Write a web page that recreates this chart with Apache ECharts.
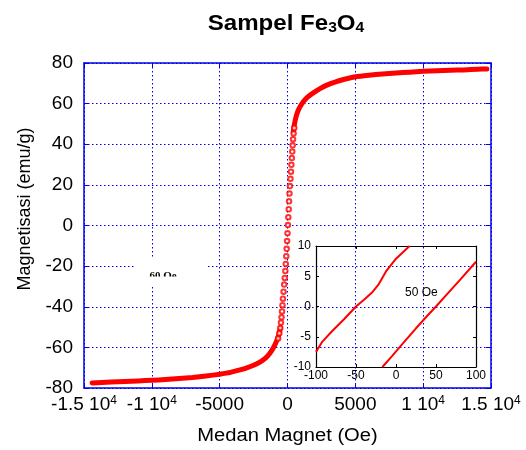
<!DOCTYPE html>
<html>
<head>
<meta charset="utf-8">
<script src="https://cdn.jsdelivr.net/npm/echarts@6/dist/echarts.min.js"></script>
<style>
  html, body { margin: 0; padding: 0; background: #ffffff; }
  #c { width: 526px; height: 450px; }
</style>
</head>
<body>
<div id="c"></div>
<script>
// Hysteresis loop of the Fe3O4 sample: field H (Oe), magnetisation M (emu/g)
// Saturating tails, drawn as a thick band
const lowerTailH = [-14400, -13000, -12000, -11000, -10000, -9000, -8000, -7000, -6000, -5000, -4200, -3500, -3000, -2500, -2000, -1600, -1300, -1050, -850, -700, -600, -520];
const lowerTailM = [-77.5, -77.1, -76.8, -76.5, -76.2, -75.8, -75.3, -74.8, -74.1, -73.2, -72.3, -71.1, -70.1, -68.8, -67.1, -65.2, -62.9, -60.3, -57.6, -55.0, -52.6, -50.2];
const upperTailH = [430, 520, 650, 800, 1000, 1200, 1500, 1900, 2400, 2900, 3500, 4200, 5000, 6000, 7000, 8000, 9000, 10000, 11000, 12000, 13000, 14000, 14700];
const upperTailM = [46.5, 50.2, 54.0, 56.8, 59.3, 61.2, 63.3, 65.3, 67.4, 69.1, 70.6, 72.0, 73.2, 74.0, 74.6, 75.1, 75.5, 75.9, 76.2, 76.4, 76.6, 76.9, 77.1];

// Steep switching region, where single measurement points are visible
const steepH = [-690, -600, -530, -480, -440, -405, -370, -335, -290, -245, -200, -160, -125, -90, -60, -30, 0, 30, 60, 90, 115, 145, 180, 220, 255, 285, 320, 350, 380, 410, 450, 500];
const steepM = [-55.6, -53.1, -50.4, -47.8, -45.2, -42.3, -39.2, -36.0, -32.6, -29.1, -25.8, -22.4, -18.9, -15.1, -11.5, -7.6, -3.8, 0.2, 4.1, 8.0, 11.9, 15.7, 19.4, 23.0, 26.5, 29.9, 33.2, 36.4, 39.5, 42.5, 45.3, 48.0];

// Inset: the loop around H = 0 (coercive field 50 Oe)
const insetLeftH = [-100, -92, -80, -65, -50, -40, -30, -22, -12, 0, 8, 17];
const insetLeftM = [-7.5, -5.8, -4.1, -2.1, 0, 1.1, 2.3, 3.6, 5.9, 7.9, 8.9, 10];
const insetRightH = [-17, -5, 10, 25, 40, 50, 65, 80, 100];
const insetRightM = [-10, -8.2, -5.9, -3.6, -1.4, 0, 2.2, 4.4, 7.4];

// Tick labels of the field axis (mantissa and power of ten)
const fieldTicks = [-15000, -10000, -5000, 0, 5000, 10000, 15000];
const fieldTickBase = ['-1.5 10', '-1 10', '-5000', '0', '5000', '1 10', '1.5 10'];
const fieldTickExp = ['4', '4', '', '', '', '4', '4'];

const BLUE = '#0000ee';
const RED = '#ff0000';
const FONT = 'Liberation Sans, Arial, sans-serif';
const pairs = (xs, ys) => xs.map((x, i) => [x, ys[i]]);

function fieldLabel(v) {
  const i = fieldTicks.indexOf(v);
  if (i < 0) return '';
  return fieldTickExp[i]
    ? '{b|' + fieldTickBase[i] + '}{e|' + fieldTickExp[i] + '}'
    : '{b|' + fieldTickBase[i] + '}';
}

const dotted = { color: BLUE, type: [1.5, 2.5], width: 1 };
const frameLine = { show: true, onZero: false, lineStyle: { color: BLUE, width: 1.5 } };
const frameTick = { show: true, inside: true, length: 5, lineStyle: { color: BLUE, width: 1 } };
const insetLine = { show: true, onZero: false, lineStyle: { color: '#000', width: 1.2 } };
const insetTick = { show: true, inside: true, length: 3, lineStyle: { color: '#000', width: 1 } };
const insetLabel = { fontSize: 12, color: '#000', fontFamily: FONT };

const chart = echarts.init(document.getElementById('c'), null, { renderer: 'canvas' });
chart.setOption({
  animation: false,
  backgroundColor: '#ffffff',
  grid: [
    { left: 84, top: 63, width: 407, height: 325, containLabel: false },
    { left: 316, top: 246, width: 160, height: 121, containLabel: false }
  ],
  xAxis: [
    {
      gridIndex: 0, type: 'value', position: 'bottom',
      min: -15000, max: 15000, interval: 5000,
      axisLine: frameLine, axisTick: frameTick,
      axisLabel: {
        margin: 7, formatter: fieldLabel,
        rich: {
          b: { fontSize: 19, color: '#000', fontFamily: FONT },
          e: { fontSize: 12, color: '#000', fontFamily: FONT, verticalAlign: 'top' }
        }
      },
      splitLine: { show: true, lineStyle: dotted }
    },
    {
      gridIndex: 0, type: 'value', position: 'top',
      min: -15000, max: 15000, interval: 5000,
      axisLine: frameLine, axisTick: frameTick,
      axisLabel: { show: false }, splitLine: { show: false }
    },
    {
      gridIndex: 1, type: 'value', position: 'bottom',
      min: -100, max: 100, interval: 50,
      axisLine: insetLine, axisTick: insetTick,
      axisLabel: Object.assign({ margin: 3 }, insetLabel),
      splitLine: { show: false }
    },
    {
      gridIndex: 1, type: 'value', position: 'top',
      min: -100, max: 100, interval: 50,
      axisLine: insetLine, axisTick: insetTick,
      axisLabel: { show: false }, splitLine: { show: false }
    }
  ],
  yAxis: [
    {
      gridIndex: 0, type: 'value', position: 'left',
      min: -80, max: 80, interval: 20,
      axisLine: frameLine, axisTick: frameTick,
      axisLabel: { margin: 11, fontSize: 19, color: '#000', fontFamily: FONT },
      splitLine: { show: true, lineStyle: dotted }
    },
    {
      gridIndex: 0, type: 'value', position: 'right',
      min: -80, max: 80, interval: 20,
      axisLine: frameLine, axisTick: frameTick,
      axisLabel: { show: false }, splitLine: { show: false }
    },
    {
      gridIndex: 1, type: 'value', position: 'left',
      min: -10, max: 10, interval: 5,
      axisLine: insetLine, axisTick: insetTick,
      axisLabel: Object.assign({ margin: 5 }, insetLabel),
      splitLine: { show: false }
    },
    {
      gridIndex: 1, type: 'value', position: 'right',
      min: -10, max: 10, interval: 5,
      axisLine: insetLine, axisTick: insetTick,
      axisLabel: { show: false }, splitLine: { show: false }
    }
  ],
  series: [
    {
      type: 'line', xAxisIndex: 0, yAxisIndex: 0, data: pairs(lowerTailH, lowerTailM),
      showSymbol: false, smooth: 0.2, z: 3,
      lineStyle: { color: RED, width: 5, cap: 'round', join: 'round' }
    },
    {
      type: 'line', xAxisIndex: 0, yAxisIndex: 0, data: pairs(upperTailH, upperTailM),
      showSymbol: false, smooth: 0.2, z: 3,
      lineStyle: { color: RED, width: 5, cap: 'round', join: 'round' }
    },
    {
      type: 'scatter', xAxisIndex: 0, yAxisIndex: 0, data: pairs(steepH, steepM),
      symbol: 'emptyCircle', symbolSize: 4.5, z: 3,
      itemStyle: { color: RED, borderColor: RED, borderWidth: 1.3 }
    },
    {
      type: 'line', xAxisIndex: 2, yAxisIndex: 2, data: pairs(insetLeftH, insetLeftM),
      showSymbol: false, z: 4, lineStyle: { color: RED, width: 2 }
    },
    {
      type: 'line', xAxisIndex: 2, yAxisIndex: 2, data: pairs(insetRightH, insetRightM),
      showSymbol: false, z: 4, lineStyle: { color: RED, width: 2 }
    }
  ],
  graphic: [
    {
      type: 'text', x: 286, y: 24, scaleX: 1.12, z: 10,
      style: {
        text: '{t|Sampel Fe}{s|3}{t|O}{s|4}',
        align: 'center', verticalAlign: 'middle',
        rich: {
          t: { fontSize: 21.5, fontWeight: 'bold', fill: '#000', fontFamily: FONT },
          s: { fontSize: 14, fontWeight: 'bold', fill: '#000', fontFamily: FONT, verticalAlign: 'bottom' }
        }
      }
    },
    {
      type: 'text', x: 287.5, y: 436, scaleX: 1.12, z: 10,
      style: { text: 'Medan Magnet (Oe)', fontSize: 18, fill: '#000', fontFamily: FONT, align: 'center', verticalAlign: 'middle' }
    },
    {
      type: 'text', x: 25, y: 209, rotation: Math.PI / 2, z: 10,
      style: { text: 'Magnetisasi (emu/g)', fontSize: 18, fill: '#000', fontFamily: FONT, align: 'center', verticalAlign: 'middle' }
    },
    {
      type: 'rect', z: 5, shape: { x: 134, y: 259, width: 73, height: 26 },
      style: { fill: '#ffffff' }
    },
    {
      type: 'text', x: 163, y: 271, z: 6,
      style: { text: '60 Oe', fontSize: 11, fontWeight: 'bold', fill: '#000', fontFamily: 'Liberation Serif, serif', align: 'center', verticalAlign: 'top' }
    },
    {
      type: 'rect', z: 7, shape: { x: 134, y: 276.5, width: 73, height: 8.5 },
      style: { fill: '#ffffff' }
    },
    {
      type: 'text', x: 405, y: 293, z: 10,
      style: { text: '50 Oe', fontSize: 12, fill: '#000', fontFamily: FONT, align: 'left', verticalAlign: 'middle' }
    }
  ]
});
</script>
</body>
</html>
